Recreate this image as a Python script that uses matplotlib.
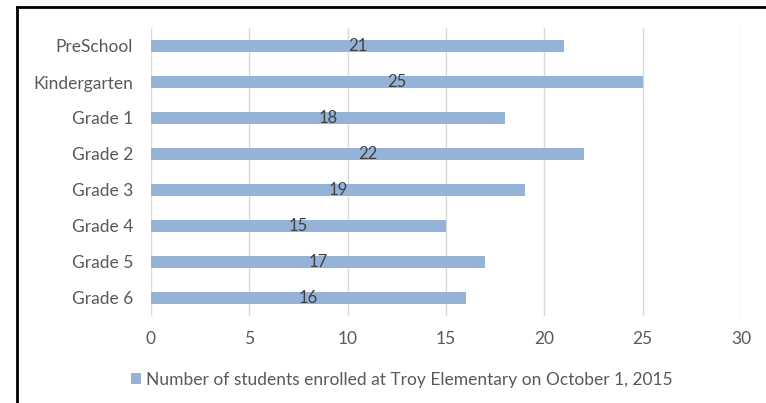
import matplotlib
matplotlib.use("Agg")
import matplotlib.pyplot as plt
from matplotlib.lines import Line2D

grades = ["PreSchool", "Kindergarten", "Grade 1", "Grade 2", "Grade 3", "Grade 4", "Grade 5", "Grade 6"]
students = [21, 25, 18, 22, 19, 15, 17, 16]
xticks = [0, 5, 10, 15, 20, 25, 30]
series_name = "Number of students enrolled at Troy Elementary on October 1, 2015"

plt.rcParams["font.family"] = ["Lato", "DejaVu Sans"]
txt = "#595959"

fig = plt.figure(figsize=(7.66, 4.03), dpi=100)
ax = fig.add_axes([151/766, 1-316/403, 590/766, 288/403])

ypos = list(range(len(grades)))
ax.barh(ypos, students, height=0.36, color="#95B3D7", zorder=2, label=series_name)
for y, v in zip(ypos, students):
    ax.text(v/2, y, str(v), ha="center", va="center", fontsize=12, color="#404040", zorder=3)

ax.set_ylim(len(grades)-0.5, -0.5)
ax.set_xlim(0, 30)
ax.set_xticks(xticks)
ax.set_yticks(ypos)
ax.set_yticklabels(grades, fontsize=12.5, color=txt)
ax.tick_params(axis="x", labelsize=12.5, labelcolor=txt, length=0, pad=11)
ax.tick_params(axis="y", length=0, pad=13)
ax.grid(axis="x", color="#D9D9D9", lw=1, zorder=0)
for s in ax.spines.values():
    s.set_visible(False)

fig.legend(loc="center", bbox_to_anchor=(402/766, 1-380/403), frameon=False,
           fontsize=12.5, labelcolor=txt, handlelength=0.6, handleheight=0.6,
           handletextpad=0.3)

# black frame edges (left and top)
fig.add_artist(Line2D([17/766, 17/766], [0, 1-7/403], color="black", lw=2, transform=fig.transFigure))
fig.add_artist(Line2D([17/766, 1], [1-7/403, 1-7/403], color="black", lw=2, transform=fig.transFigure))

fig.savefig("out.png", dpi=100)
